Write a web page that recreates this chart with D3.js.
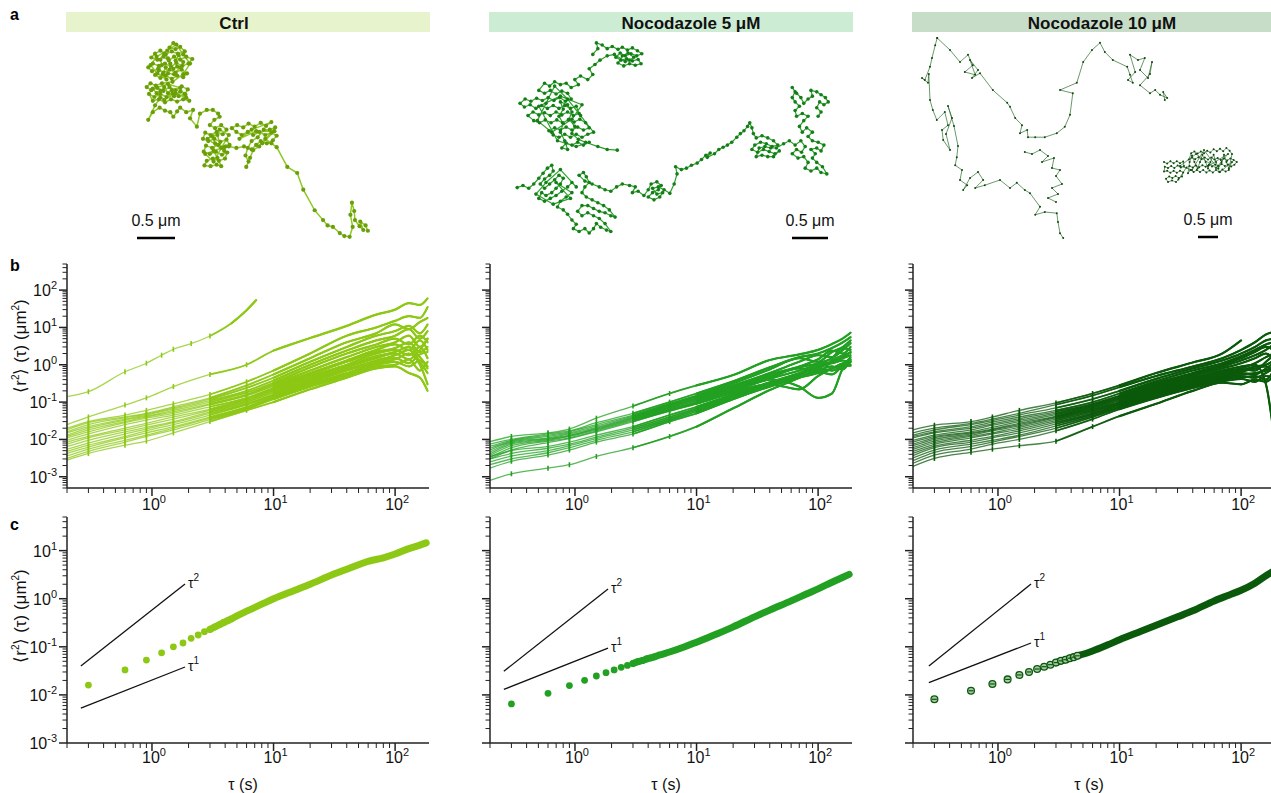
<!DOCTYPE html>
<html><head><meta charset="utf-8">
<script src="https://cdn.jsdelivr.net/npm/d3@7"></script>
<style>body{margin:0;background:#fff;} svg{display:block;font-family:"Liberation Sans",Arial,Helvetica,sans-serif;}</style>
</head><body>
<svg id="fig" width="1271" height="793"></svg>
<script>
// ---------------- DATA ----------------
const conditions = ["Ctrl", "Nocodazole 5 μM", "Nocodazole 10 μM"];
const scaleBarUm = 0.5;
const scaleBarLabel = "0.5 μm";

// Trajectories (μm, x right, y down), split in segments
const ctrlTrack = [[
 [0.57,0.04],[0.52,0.10],[0.60,0.12],[0.66,0.09],
 [0.72,0.15],[0.63,0.18],[0.55,0.15],[0.47,0.19],[0.40,0.14],[0.33,0.18],
 [0.28,0.23],[0.36,0.26],[0.44,0.22],[0.51,0.27],[0.58,0.22],[0.66,0.26],[0.74,0.22],[0.82,0.25],
 [0.77,0.31],[0.69,0.34],[0.61,0.30],[0.54,0.35],[0.46,0.31],[0.38,0.34],[0.30,0.31],[0.24,0.36],
 [0.29,0.41],[0.37,0.38],[0.44,0.43],[0.52,0.39],[0.60,0.43],[0.68,0.39],[0.75,0.44],
 [0.70,0.49],[0.62,0.47],[0.55,0.51],[0.47,0.47],[0.40,0.50],[0.33,0.46],
 [0.38,0.40],[0.42,0.33],[0.40,0.26],[0.45,0.18],[0.50,0.24],[0.53,0.31],[0.57,0.38],[0.62,0.35],[0.60,0.27],[0.64,0.20],
 [0.70,0.29],[0.66,0.36],[0.58,0.45],[0.50,0.44],[0.47,0.36],[0.43,0.45],[0.48,0.52],
 [0.36,0.44],[0.27,0.33],[0.35,0.22],[0.49,0.14],[0.61,0.06],[0.70,0.19],[0.79,0.31],[0.70,0.45],[0.56,0.55],
 [0.42,0.57],[0.34,0.60],[0.27,0.57],[0.22,0.62],
 [0.28,0.66],[0.36,0.63],[0.44,0.67],[0.52,0.62],[0.60,0.66],[0.68,0.61],[0.76,0.65],
 [0.72,0.71],[0.64,0.74],[0.56,0.70],[0.48,0.75],[0.40,0.71],[0.32,0.75],[0.25,0.71],
 [0.30,0.80],[0.38,0.78],[0.46,0.82],[0.54,0.78],[0.62,0.81],[0.70,0.78],[0.78,0.80],
 [0.73,0.72],[0.66,0.68],[0.58,0.74],[0.55,0.66],[0.50,0.70],[0.45,0.62],[0.40,0.67],[0.35,0.70],
 [0.45,0.79],[0.60,0.70],[0.74,0.76],[0.66,0.63],[0.50,0.58],[0.30,0.64],[0.40,0.76],
 [0.33,0.86],[0.24,1.05],[0.30,0.95],[0.39,0.89],[0.46,0.93],[0.53,0.95],[0.57,1.01],[0.62,0.94],[0.66,0.89],[0.74,0.95],
 [0.83,0.92],[0.79,1.03],[0.88,1.14],[0.92,0.97],[1.01,0.92],[1.09,0.92],[1.16,0.97],[1.18,1.01],[1.11,1.05],
 [1.05,1.12],[1.12,1.16],[1.20,1.12],[1.27,1.18],[1.22,1.24],[1.14,1.21],[1.06,1.25],[0.99,1.22],[0.96,1.30],[1.03,1.33],
 [1.11,1.30],[1.19,1.34],[1.27,1.31],[1.31,1.38],[1.24,1.41],[1.16,1.38],[1.08,1.42],[1.00,1.39],[0.97,1.47],[1.05,1.50],
 [1.13,1.47],[1.21,1.51],[1.28,1.48],[1.25,1.56],[1.17,1.59],[1.09,1.56],[1.01,1.59],[0.98,1.65],[1.06,1.66],[1.14,1.64],
 [1.20,1.66],[1.15,1.55],[1.10,1.46],[1.12,1.36],[1.08,1.27],[1.15,1.25],[1.20,1.42],[1.24,1.46],
 [1.02,1.30],[1.18,1.18],[1.30,1.25],[1.10,1.60],[0.99,1.50],[1.26,1.40],
 [1.30,1.40],[1.40,1.42],[1.50,1.40],[1.60,1.44],
 [1.66,1.38],[1.72,1.33],[1.80,1.36],[1.88,1.32],[1.93,1.26],[1.86,1.22],[1.78,1.25],[1.70,1.21],[1.62,1.25],[1.55,1.21],
 [1.47,1.25],[1.40,1.21],[1.34,1.16],[1.41,1.12],[1.49,1.15],[1.56,1.10],[1.64,1.14],[1.72,1.09],[1.79,1.13],[1.86,1.08],
 [1.60,1.18],[1.44,1.30],[1.66,1.20],[1.90,1.20],[1.74,1.36],
 [1.91,1.15],[1.84,1.18],[1.76,1.18],[1.68,1.28],[1.60,1.33],[1.55,1.42],[1.52,1.52],[1.56,1.60],[1.53,1.67],[1.58,1.55],
 [1.62,1.45],[1.70,1.40],[1.78,1.30],[1.86,1.36],[1.93,1.41],
 [2.07,1.67],[2.20,1.75],[2.28,1.97],[2.43,2.24],[2.54,2.37],[2.60,2.44],[2.67,2.46],[2.76,2.54],[2.82,2.58],[2.89,2.59],
 [2.93,2.46],[2.90,2.30],[2.92,2.14],[2.95,2.25],[2.96,2.37],[3.02,2.45],[3.07,2.50],[3.03,2.39],[3.10,2.44],[3.13,2.51]
]];
const noco5Track = [[
 [1.15,0.20],[1.22,0.12],[1.20,0.04],[1.28,0.07],[1.35,0.12],[1.42,0.09],[1.50,0.13],[1.56,0.10],[1.63,0.14],[1.70,0.11],
 [1.77,0.15],[1.83,0.19],[1.76,0.22],[1.68,0.19],[1.60,0.22],[1.53,0.18],[1.47,0.24],[1.54,0.28],[1.62,0.26],[1.70,0.29],
 [1.78,0.27],[1.82,0.33],[1.74,0.35],[1.66,0.33],[1.58,0.36],[1.50,0.32],[1.56,0.22],[1.64,0.18],[1.72,0.24],[1.66,0.28],
 [1.60,0.30],[1.45,0.20],[1.35,0.22],[1.25,0.28],[1.18,0.34],[1.10,0.40],[1.15,0.48],[1.08,0.55],[0.98,0.50],[0.90,0.55],
 [0.95,0.62],[0.85,0.66],[0.78,0.60],
 [0.70,0.62],[0.62,0.58],[0.55,0.64],[0.48,0.60],
 [0.40,0.70],[0.48,0.74],[0.56,0.70],[0.64,0.75],[0.72,0.71],[0.80,0.74],
 [0.85,0.82],[0.77,0.85],[0.69,0.80],[0.61,0.84],[0.53,0.80],[0.45,0.84],[0.37,0.81],[0.29,0.85],[0.21,0.82],[0.14,0.88],
 [0.20,0.93],[0.28,0.90],[0.36,0.95],[0.44,0.91],[0.52,0.95],[0.60,0.91],[0.68,0.95],[0.76,0.91],[0.84,0.95],[0.92,0.92],
 [0.96,1.02],[0.88,1.05],[0.80,1.00],[0.72,1.04],[0.64,1.00],[0.56,1.05],[0.48,1.01],[0.40,1.04],[0.32,1.00],[0.25,1.05],
 [0.33,1.12],[0.41,1.15],[0.49,1.11],[0.57,1.15],[0.65,1.11],[0.73,1.15],[0.81,1.11],[0.89,1.14],[0.97,1.10],[1.05,1.15],
 [1.10,1.22],[1.02,1.25],[0.94,1.21],[0.86,1.25],[0.78,1.21],[0.70,1.25],[0.62,1.22],[0.54,1.26],
 [0.60,1.32],[0.68,1.35],[0.76,1.31],[0.84,1.35],[0.92,1.31],[1.00,1.35],[1.08,1.31],[1.16,1.28],
 [0.98,1.05],[0.80,0.82],[0.62,0.64],[0.50,0.88],[0.38,1.12],[0.58,1.28],[0.86,1.10],[1.00,0.90],[0.70,0.78],[0.40,0.92],
 [0.66,1.40],[0.92,1.48],
 [1.10,1.42],[1.02,1.46],[0.94,1.42],[0.86,1.46],[0.78,1.43],[0.72,1.50],[0.80,1.52],
 [0.76,1.40],[0.70,1.28],[0.74,1.16],[0.68,1.06],[0.74,0.96],[0.70,0.86],[0.80,0.90],[0.86,1.00],[0.82,1.10],[0.90,1.20],
 [0.86,1.30],[0.95,1.38],[1.05,1.42],[1.22,1.48],[1.35,1.52],[1.49,1.53]
],[
 [0.10,2.05],[0.18,2.02],[0.26,2.06],[0.33,2.00],[0.40,1.92],[0.46,1.85],[0.52,1.78],[0.58,1.74],[0.60,1.82],[0.55,1.88],
 [0.48,1.93],[0.42,2.00],[0.48,2.06],[0.55,2.00],[0.62,1.94],[0.68,1.88],[0.74,1.92],[0.70,2.00],[0.64,2.06],[0.58,2.12],
 [0.50,2.16],[0.44,2.12],[0.40,2.20],[0.48,2.24],[0.56,2.20],[0.64,2.16],[0.72,2.10],[0.80,2.04],[0.86,1.98],[0.92,2.04],
 [0.70,1.80],[0.50,1.98],[0.36,2.14],[0.60,2.28],[0.84,2.20],[0.64,1.98],
 [0.86,2.12],[0.78,2.18],[0.70,2.24],[0.66,2.32],[0.74,2.36],[0.80,2.42],[0.86,2.50],[0.92,2.56],[0.88,2.62],[0.96,2.66],
 [1.04,2.62],[1.10,2.68],[1.16,2.62],[1.20,2.55],[1.26,2.60],[1.34,2.64],[1.40,2.66],[1.32,2.55],[1.24,2.48],[1.16,2.44],
 [1.08,2.40],[1.00,2.44],[0.94,2.38],[1.00,2.30],[1.08,2.30],[1.16,2.34],[1.24,2.38],[1.32,2.40],[1.40,2.44],[1.46,2.46],
 [1.38,2.36],[1.30,2.30],[1.22,2.26],[1.14,2.22],[1.06,2.18],[1.00,2.12],[1.04,2.04],[1.10,1.98],[1.06,1.90],[1.02,1.84],
 [0.96,1.88],[1.04,1.96],[1.14,2.00],[1.24,2.04],[1.32,2.08],[1.40,2.10],[1.48,2.04],[1.56,2.00],[1.66,2.02],[1.74,2.04],
 [1.70,2.12],[1.78,2.10],[1.86,2.16],[1.92,2.08],
 [1.96,2.00],[2.04,1.97],[2.10,2.02],[2.06,2.08],[1.98,2.12],[1.92,2.18],[2.00,2.22],[2.08,2.18],[2.12,2.12],[2.04,2.14],
 [1.98,2.06],[2.06,2.04],[2.14,2.08],[2.22,2.13],
 [2.28,2.00],[2.32,1.86],[2.30,1.76],[2.38,1.80],[2.45,1.78],[2.52,1.74],[2.60,1.71],[2.66,1.66],[2.72,1.60],[2.78,1.57],
 [2.74,1.63],[2.84,1.58],[2.90,1.52],[2.96,1.49],[3.02,1.46],[3.08,1.42],[3.15,1.35],[3.20,1.30],[3.25,1.26],[3.30,1.20],
 [3.33,1.15],[3.36,1.22],[3.38,1.30],
 [3.42,1.36],[3.50,1.33],[3.58,1.36],[3.66,1.40],[3.72,1.46],[3.64,1.48],[3.56,1.44],[3.48,1.42],[3.40,1.46],[3.36,1.52],
 [3.44,1.56],[3.52,1.52],[3.60,1.55],[3.68,1.58],[3.74,1.54],[3.66,1.62],[3.58,1.62],[3.50,1.60],[3.42,1.62],[3.46,1.50],
 [3.54,1.48],[3.62,1.50],[3.70,1.50],
 [3.80,1.44],[3.88,1.40],[3.96,1.46],[4.04,1.40],[4.10,1.48],[4.05,1.56],[3.98,1.52],[3.92,1.58],[4.00,1.64],[4.08,1.62],
 [4.14,1.70],[4.10,1.78],[4.18,1.82],[4.26,1.78],[4.32,1.84],[4.40,1.86],[4.34,1.76],[4.26,1.70],[4.20,1.64],[4.24,1.58],
 [4.18,1.52],[4.26,1.50],[4.32,1.54],[4.36,1.46],[4.28,1.42],[4.20,1.40],[4.14,1.34],[4.20,1.28],[4.12,1.22],[4.06,1.28],
 [4.02,1.20],[4.08,1.12],[4.14,1.06],[4.06,1.02],[3.98,1.06],[3.96,0.98],[4.02,0.92],[3.96,0.86],[3.92,0.80],[3.96,0.72],
 [3.92,0.66],[3.98,0.74],[4.04,0.80],[4.08,0.88],[4.14,0.82],[4.20,0.78],[4.18,0.70],[4.26,0.72],[4.32,0.76],[4.38,0.80],
 [4.42,0.86],[4.36,0.90],[4.30,0.86],[4.26,0.94],[4.32,1.00],[4.28,1.06]
]];
const noco10Track = [[
 [0.43,0.20],[0.75,0.50],[1.00,0.80],[1.20,0.62],[1.32,0.88],[1.12,1.05],[1.38,1.12],[1.25,0.75],[1.45,1.00],[1.30,1.20],
 [1.50,1.08],[1.82,1.50],[2.18,1.82],[2.25,1.92],[2.38,2.20],[2.55,2.38],[2.50,2.58],[2.68,2.50],[2.70,2.68],[2.88,2.68],
 [3.12,2.68],[3.42,2.58],[3.62,2.42],[3.75,2.12],[3.82,1.58],[3.50,1.50],[3.92,1.32],[4.08,0.80],[4.30,0.50],[4.50,0.32],
 [4.62,0.55],[4.82,0.75],[5.18,0.92],[5.25,1.12],[5.32,1.32],[5.20,1.25],[5.38,1.05],[5.25,0.62],[5.45,0.75],[5.62,0.70],
 [5.50,1.00],[5.70,1.20],[5.80,0.80],[5.75,1.10],[5.50,1.38],[5.75,1.58],[5.88,1.50],[6.00,1.62],[6.18,1.70],[6.08,1.55],[6.12,1.75]
],[
 [0.43,0.20],[0.38,0.38],[0.30,0.70],[0.25,0.92],[0.12,1.25],[0.05,1.20],[0.20,1.32],[0.22,1.10],[0.25,1.75],[0.32,2.00],
 [0.42,2.25],[0.62,2.05],[0.70,2.38],[0.55,2.50],[0.58,2.75],[0.75,3.00],[0.65,2.60],[0.80,2.20],[0.70,1.90],[0.85,2.40],
 [0.95,2.90],[0.92,3.18],[0.88,3.38],[1.05,3.50],[1.00,3.75],[1.18,3.88],[1.08,4.00],[1.25,3.70],[1.45,3.55],[1.58,3.75],
 [1.38,3.95],[1.62,3.88],[2.00,3.75],[2.25,3.95],[2.42,3.82],[2.62,4.00],[2.75,4.08],[3.00,4.42],[2.88,4.62],[3.12,4.55],
 [3.42,4.58],[3.45,4.80],[3.50,5.08],[3.58,5.20]
],[
 [2.62,3.05],[2.80,3.10],[3.00,3.00],[3.20,3.15],[3.05,3.30],[3.35,3.20],[3.30,3.45],[3.50,3.50],[3.40,3.65],[3.55,3.85],
 [3.30,3.95],[3.45,4.10],[3.20,4.20],[3.40,4.30]
],[
 [6.10,3.30],[6.18,3.34],[6.26,3.28],[6.34,3.33],[6.42,3.28],[6.50,3.33],[6.58,3.29],
 [6.60,3.40],[6.52,3.44],[6.44,3.39],[6.36,3.45],[6.28,3.40],[6.20,3.45],[6.12,3.42],
 [6.10,3.54],[6.18,3.52],[6.26,3.57],[6.34,3.52],[6.42,3.57],[6.50,3.52],[6.58,3.56],
 [6.55,3.66],[6.47,3.70],[6.39,3.65],[6.31,3.70],[6.23,3.66],[6.15,3.72],[6.20,3.80],[6.30,3.76],[6.40,3.80],[6.46,3.74],
 [6.66,3.44],[6.74,3.40],[6.82,3.44],[6.90,3.39],[6.98,3.43],[7.06,3.38],[7.14,3.42],[7.22,3.37],[7.30,3.41],[7.38,3.36],
 [7.46,3.40],[7.54,3.35],[7.62,3.40],[7.70,3.36],[7.78,3.41],[7.86,3.37],[7.92,3.30],
 [7.84,3.25],[7.76,3.21],[7.68,3.26],[7.60,3.21],[7.52,3.25],[7.44,3.20],[7.36,3.24],[7.28,3.19],[7.20,3.24],[7.12,3.19],
 [7.04,3.23],[6.96,3.18],[6.88,3.23],[6.80,3.19],[6.72,3.24],
 [6.78,3.08],[6.86,3.04],[6.94,3.09],[7.02,3.04],[7.10,3.08],[7.18,3.02],[7.26,3.06],[7.34,2.98],[7.42,3.03],[7.50,2.97],
 [7.58,3.03],[7.66,2.95],[7.74,3.02],[7.80,3.10],
 [7.72,3.50],[7.64,3.54],[7.56,3.49],[7.48,3.55],[7.40,3.50],[7.32,3.56],[7.24,3.51],[7.16,3.56],[7.08,3.50],[7.00,3.55],
 [6.92,3.50],[6.84,3.55],[6.76,3.50],[6.70,3.58],
 [6.74,3.30],[6.80,3.14],[6.86,3.30],[6.94,3.46],[7.00,3.30],[7.06,3.12],[7.14,3.30],[7.20,3.46],[7.26,3.30],[7.34,3.12],
 [7.40,3.30],[7.46,3.46],[7.54,3.30],[7.60,3.12],[7.66,3.30],[7.72,3.46],[7.80,3.30],
 [7.50,3.55],[7.10,3.00],[6.80,3.50],[6.50,3.40],[6.90,3.10],[7.40,3.45],[7.70,3.10],[7.20,3.40]
]];

// Panel b: individual MSD curves (μm²) at lag times tauB (s)
const tauB = [0.2, 0.3, 0.6, 0.9, 1.5, 3, 6, 10, 20, 40, 70, 100, 130, 160, 185];
const ctrlMSD = [
 [0.025,0.04,0.083,0.13,0.26,0.55,1.0,2.4,5.2,11,22,30,45,40,60],
 [0.02,0.03,0.045,0.06,0.09,0.16,0.35,0.7,2.0,6,10,15,20,18,35],
 [0.018,0.028,0.04,0.05,0.075,0.13,0.28,0.55,1.5,4.0,7,12,9,14,18],
 [0.016,0.025,0.038,0.048,0.07,0.12,0.24,0.45,1.2,3.0,6,8,11,7,12],
 [0.015,0.022,0.035,0.045,0.065,0.11,0.2,0.38,1.0,2.4,4.5,6,9,5,8],
 [0.013,0.02,0.033,0.042,0.06,0.1,0.18,0.33,0.85,2.0,3.5,5,3.5,6,4],
 [0.012,0.018,0.03,0.04,0.055,0.09,0.16,0.3,0.7,1.6,3,4,6,3,5],
 [0.011,0.016,0.028,0.037,0.05,0.085,0.15,0.27,0.6,1.3,2.5,3.5,2.5,4.5,2.5],
 [0.0095,0.014,0.025,0.033,0.045,0.075,0.13,0.24,0.55,1.2,2.2,2.8,4,2.2,3],
 [0.0085,0.012,0.02,0.027,0.04,0.065,0.12,0.22,0.5,1.0,2.0,2.5,1.8,3,1.5],
 [0.0075,0.011,0.018,0.024,0.035,0.06,0.11,0.2,0.45,0.9,1.7,2.2,3,1.6,0.9],
 [0.0065,0.0095,0.016,0.021,0.03,0.055,0.1,0.18,0.4,0.85,1.5,2.0,1.4,2.5,5],
 [0.0055,0.008,0.014,0.019,0.028,0.05,0.09,0.16,0.36,0.75,1.3,1.8,2.5,1.2,0.6],
 [0.0048,0.007,0.012,0.017,0.025,0.045,0.085,0.15,0.33,0.7,1.2,1.5,1.1,1.9,2.2],
 [0.0042,0.0062,0.011,0.015,0.022,0.04,0.075,0.14,0.3,0.6,1.1,1.4,2.0,1.0,0.3],
 [0.0036,0.0055,0.0095,0.013,0.02,0.037,0.07,0.13,0.28,0.55,1.0,1.2,0.9,1.3,0.8],
 [0.0031,0.0048,0.0085,0.012,0.018,0.034,0.065,0.12,0.26,0.5,0.9,1.0,1.4,0.7,1.2],
 [0.0028,0.0042,0.007,0.009,0.015,0.03,0.06,0.1,0.22,0.45,0.8,0.9,0.6,0.45,0.2]
];
const ctrlOutlierTau = [0.2, 0.3, 0.6, 0.9, 1.2, 1.5, 2.1, 3, 4.5, 6, 7.2];
const ctrlOutlierMSD = [0.14, 0.19, 0.65, 1.1, 1.8, 2.6, 3.7, 5.9, 12.9, 29, 54];
const noco5MSD = [
 [0.0087,0.012,0.015,0.019,0.037,0.078,0.17,0.28,0.53,1.34,1.9,2.5,3.6,5.1,7.2],
 [0.0075,0.010,0.014,0.017,0.028,0.05,0.10,0.17,0.36,0.85,1.6,2.0,2.8,4.0,5.5],
 [0.0065,0.0095,0.013,0.016,0.025,0.045,0.09,0.15,0.32,0.75,1.5,1.2,2.2,3.0,4.5],
 [0.0058,0.009,0.012,0.015,0.023,0.042,0.085,0.14,0.28,0.6,1.2,1.8,1.6,2.5,3.8],
 [0.0052,0.0085,0.011,0.014,0.021,0.04,0.08,0.13,0.26,0.55,0.9,1.4,2.4,2.0,3.0],
 [0.0046,0.008,0.0105,0.013,0.02,0.038,0.075,0.12,0.24,0.5,0.85,1.1,1.5,2.8,2.5],
 [0.0041,0.0075,0.01,0.0125,0.019,0.036,0.07,0.11,0.22,0.45,0.8,0.6,1.3,1.8,2.1],
 [0.0037,0.0068,0.0095,0.012,0.018,0.034,0.065,0.1,0.2,0.42,0.7,1.0,1.2,1.5,1.8],
 [0.0033,0.006,0.009,0.011,0.017,0.032,0.06,0.095,0.19,0.4,0.26,0.13,0.17,0.8,1.2],
 [0.003,0.0052,0.0082,0.0105,0.016,0.03,0.058,0.09,0.18,0.3,0.22,0.5,0.8,1.0,1.3],
 [0.0035,0.005,0.0065,0.0085,0.013,0.022,0.045,0.075,0.16,0.34,0.6,0.9,1.1,1.3,1.0],
 [0.003,0.0042,0.0058,0.0075,0.0115,0.02,0.04,0.068,0.15,0.32,0.55,0.8,0.7,1.0,1.6],
 [0.0025,0.0036,0.005,0.0068,0.0105,0.018,0.036,0.062,0.14,0.3,0.5,0.7,0.9,0.75,1.4],
 [0.0021,0.003,0.0044,0.006,0.0095,0.016,0.033,0.056,0.13,0.28,0.48,0.65,0.55,0.9,0.95],
 [0.0017,0.0026,0.0038,0.0052,0.0085,0.014,0.03,0.05,0.12,0.26,0.45,0.6,0.8,1.1,1.2],
 [0.0008,0.0012,0.0017,0.0021,0.0035,0.006,0.012,0.022,0.068,0.21,0.45,0.8,1.2,1.6,2.2]
];
const noco10MSD = [
 [0.018,0.024,0.03,0.04,0.06,0.095,0.17,0.28,0.6,1.15,2.0,4.5,null,null,null],
 [0.015,0.02,0.027,0.035,0.05,0.085,0.15,0.25,0.5,0.9,1.5,2.5,4.0,6.5,7.6],
 [0.013,0.018,0.025,0.032,0.045,0.07,0.12,0.2,0.42,0.8,1.3,2.0,3.0,4.5,5],
 [0.012,0.016,0.022,0.029,0.04,0.06,0.1,0.17,0.36,0.7,1.1,1.7,2.5,3.5,4],
 [0.011,0.015,0.02,0.026,0.036,0.055,0.09,0.15,0.32,0.6,1.0,1.5,2.2,3.0,2.5],
 [0.0095,0.013,0.018,0.024,0.033,0.05,0.085,0.14,0.3,0.55,0.9,1.3,1.8,2.5,3.5],
 [0.0085,0.012,0.016,0.021,0.03,0.046,0.08,0.13,0.27,0.5,0.8,1.1,1.5,2.0,1.5],
 [0.0075,0.011,0.015,0.019,0.027,0.042,0.075,0.12,0.25,0.45,0.7,0.9,1.0,0.3,0.015],
 [0.0068,0.01,0.014,0.018,0.025,0.04,0.07,0.11,0.23,0.42,0.65,0.8,1.1,1.6,2.0],
 [0.006,0.009,0.013,0.017,0.023,0.038,0.065,0.1,0.21,0.4,0.6,0.75,0.7,1.2,1.8],
 [0.0054,0.0082,0.012,0.015,0.021,0.035,0.06,0.095,0.2,0.37,0.55,0.7,0.9,1.0,1.3],
 [0.0048,0.0074,0.011,0.014,0.019,0.032,0.055,0.09,0.18,0.34,0.5,0.65,0.8,0.9,0.6],
 [0.0042,0.0066,0.0095,0.012,0.017,0.029,0.05,0.085,0.17,0.32,0.48,0.6,0.55,0.8,1.1],
 [0.0037,0.006,0.0085,0.011,0.015,0.026,0.047,0.08,0.16,0.3,0.45,0.55,0.6,0.7,0.9],
 [0.0032,0.0052,0.0075,0.0095,0.013,0.023,0.043,0.075,0.15,0.28,0.42,0.5,0.45,0.6,0.8],
 [0.0027,0.0045,0.0065,0.0085,0.012,0.02,0.04,0.07,0.14,0.26,0.4,0.45,0.5,0.4,0.7],
 [0.0023,0.0038,0.0055,0.0075,0.01,0.017,0.035,0.065,0.13,0.24,0.36,0.42,0.35,0.5,0.45],
 [0.0019,0.0031,0.0045,0.0055,0.0068,0.009,0.022,0.042,0.09,0.2,0.33,0.3,0.4,0.35,0.5]
];

// Panel c: ensemble-averaged MSD (μm²)
const tauC = [0.3,0.6,0.9,1.2,1.5,1.8,2.1,2.4,2.7,3.0,3.3,3.6,3.9,4.2,4.5,5,6,8,10,15,20,30,40,60,80,100,130,160,180];
const ctrlMean   = [0.016,0.033,0.053,0.075,0.10,0.12,0.15,0.176,0.206,0.23,0.26,0.29,0.32,0.35,0.38,0.44,0.55,0.77,1.0,1.5,2.0,3.1,4.1,6.0,7.1,8.5,11,13,14.5];
const noco5Mean  = [0.0065,0.0108,0.0156,0.0201,0.0247,0.029,0.033,0.0374,0.041,0.045,0.049,0.052,0.056,0.059,0.062,0.068,0.078,0.10,0.125,0.19,0.26,0.42,0.58,0.9,1.25,1.6,2.2,2.8,3.2];
const noco10Mean = [0.0081,0.0122,0.0169,0.021,0.026,0.030,0.0345,0.0386,0.0425,0.047,0.051,0.054,0.058,0.061,0.065,0.07,0.082,0.11,0.14,0.21,0.28,0.42,0.56,0.9,1.2,1.5,2.1,3.0,3.6];

// Guide lines (τ² and τ¹) for panel c
const guideTau = [[0.26,1.87],[0.26,1.87],[0.27,1.87]];
const guideT2  = [[0.040,2.02],[0.031,1.59],[0.040,2.02]];
const guideT1  = [[0.0053,0.038],[0.013,0.094],[0.018,0.12]];

// Axis tick labels (powers of ten)
const yTicksB = [-3,-2,-1,0,1,2];
const yTicksC = [-3,-2,-1,0,1];
const xTicks = [0,1,2];

// ---------------- DRAWING ----------------
const svg = d3.select("#fig");
const colors = ["#8cc814", "#22a022", "#0b5a0b"];
const dotColors = ["#6a9f0a", "#157f17", "#0a4a0a"];
const headerFill = ["#e6f3cd", "#cdecd4", "#c8ddc8"];
const headerTextX = [234, 691, 1102];
const colX = [67, 490, 913];
const W = 362;
const bTop = 264, bBot = 488, cTop = 517, cBot = 743;
const TF = 16, SF = 11;

// panel letters
[["a",20],["b",271],["c",530]].forEach(([t,y])=>{
  svg.append("text").attr("x",10).attr("y",y).attr("font-size",16).attr("font-weight","bold").text(t);
});

// headers
conditions.forEach((c,i)=>{
  svg.append("rect").attr("x",colX[i]-1).attr("y",12).attr("width",W+2).attr("height",20).attr("fill",headerFill[i]);
  svg.append("text").attr("x",headerTextX[i]).attr("y",28.5).attr("text-anchor","middle")
    .attr("font-weight","bold").attr("font-size",17).attr("fill","#111").text(c);
});

// trajectories
const tracks = [ctrlTrack, noco5Track, noco10Track];
const trackOrigin = [[130,40],[510,40],[920,30]];
const pxPerUm = [76,72,40];
const barStart = [137,792,1198];
const barY = [238,238,237];
const trackLW = [1.5,1.2,0.7];
const dotR = [2.1,1.8,1.0];
const lineCol = ["#8fc826","#2ca02c","#2d6b2d"];
tracks.forEach((tr,i)=>{
  const sx = d3.scaleLinear().domain([0,1]).range([trackOrigin[i][0], trackOrigin[i][0]+pxPerUm[i]]);
  const sy = d3.scaleLinear().domain([0,1]).range([trackOrigin[i][1], trackOrigin[i][1]+pxPerUm[i]]);
  const line = d3.line().x(d=>sx(d[0])).y(d=>sy(d[1]));
  const g = svg.append("g");
  tr.forEach(seg=>{
    g.append("path").attr("d",line(seg)).attr("fill","none").attr("stroke",lineCol[i])
      .attr("stroke-width",trackLW[i]).attr("stroke-linejoin","round");
  });
  tr.forEach(seg=>{
    g.selectAll(null).data(seg).enter().append("circle")
      .attr("cx",d=>sx(d[0])).attr("cy",d=>sy(d[1])).attr("r",dotR[i]).attr("fill",dotColors[i]);
  });
  const x0 = barStart[i], x1 = x0 + (sx(scaleBarUm)-sx(0));
  svg.append("line").attr("x1",x0).attr("x2",x1).attr("y1",barY[i]).attr("y2",barY[i]).attr("stroke","#000").attr("stroke-width",2.5);
  svg.append("text").attr("x",(x0+x1)/2).attr("y",barY[i]-12).attr("text-anchor","middle").attr("font-size",TF).attr("fill","#111").text(scaleBarLabel);
});

function pow10Label(sel, exp){
  sel.append("tspan").text("10");
  sel.append("tspan").attr("dy",-7).attr("font-size",SF).text(exp);
}

function drawAxes(x, y, yLabelExps, showY, xLabelBase){
  const g = svg.append("g");
  const [x0,x1] = x.range();
  const [yb,yt] = y.range();
  g.append("line").attr("x1",x0).attr("x2",x0).attr("y1",yt).attr("y2",yb).attr("stroke","#222").attr("stroke-width",1.5);
  g.append("line").attr("x1",x0).attr("x2",Math.min(x1,1271)).attr("y1",yb).attr("y2",yb).attr("stroke","#222").attr("stroke-width",1.5);
  const isMaj = t => Math.abs(Math.log10(t)-Math.round(Math.log10(t)))<1e-6;
  y.ticks().forEach(t=>{
    const m = isMaj(t);
    g.append("line").attr("x1",x0-(m?8:4.5)).attr("x2",x0).attr("y1",y(t)).attr("y2",y(t)).attr("stroke","#222").attr("stroke-width",m?1.5:1);
  });
  x.ticks().forEach(t=>{
    const m = isMaj(t);
    g.append("line").attr("x1",x(t)).attr("x2",x(t)).attr("y1",yb).attr("y2",yb+(m?8:5)).attr("stroke","#222").attr("stroke-width",m?1.5:1);
  });
  if (showY){
    yLabelExps.forEach(e=>{
      const t = g.append("text").attr("x",x0-10).attr("y",y(Math.pow(10,e))+6).attr("text-anchor","end").attr("font-size",TF).attr("fill","#111");
      pow10Label(t, String(e));
    });
  }
  xTicks.forEach(e=>{
    const t = g.append("text").attr("x",x(Math.pow(10,e))+2).attr("y",xLabelBase).attr("text-anchor","middle").attr("font-size",TF).attr("fill","#111");
    pow10Label(t, String(e));
  });
}

function yTitle(cy){
  const t = svg.append("text").attr("transform",`translate(26,${cy}) rotate(-90)`).attr("text-anchor","middle").attr("font-size",17).attr("fill","#111");
  t.append("tspan").text("⟨r");
  t.append("tspan").attr("dy",-7).attr("font-size",10).text("2");
  t.append("tspan").attr("dy",7).text("⟩ (τ) (μm");
  t.append("tspan").attr("dy",-7).attr("font-size",10).text("2");
  t.append("tspan").attr("dy",7).text(")");
}

const msdSets = [ctrlMSD, noco5MSD, noco10MSD];
const meanSets = [ctrlMean, noco5Mean, noco10Mean];

conditions.forEach((c,i)=>{
  const x = d3.scaleLog().domain([0.2,190]).range([colX[i], colX[i]+W]);
  const yB = d3.scaleLog().domain([5e-4,500]).range([bBot,bTop]);
  const yC = d3.scaleLog().domain([1e-3,50]).range([cBot,cTop]);

  // ---- panel b curves
  const gb = svg.append("g");
  const line = d3.line().x(d=>x(d[0])).y(d=>yB(d[1])).curve(d3.curveMonotoneX);
  const drawCurve = (tau, vals, midFrom, thickFrom)=>{
    const pts = tau.map((t,k)=>[t,vals[k]]).filter(d=>d[1]!=null);
    gb.append("path").attr("d",line(pts)).attr("fill","none").attr("stroke",colors[i]).attr("stroke-width",1.3).attr("stroke-opacity",0.75);
    const mid = pts.filter(d=>d[0]>=midFrom);
    if (mid.length>1) gb.append("path").attr("d",line(mid)).attr("fill","none").attr("stroke",colors[i]).attr("stroke-width",1.7).attr("stroke-opacity",0.9);
    const thick = pts.filter(d=>d[0]>=thickFrom);
    if (thick.length>1) gb.append("path").attr("d",line(thick)).attr("fill","none").attr("stroke",colors[i]).attr("stroke-width",2.2).attr("stroke-linecap","round");
    pts.filter(d=>d[0]>=0.3 && d[0]<thickFrom).forEach(d=>{
      gb.append("line").attr("x1",x(d[0])).attr("x2",x(d[0])).attr("y1",yB(d[1])-2.5).attr("y2",yB(d[1])+2.5)
        .attr("stroke",colors[i]).attr("stroke-width",1.6);
    });
  };
  msdSets[i].forEach(v=>drawCurve(tauB, v, 3, 10));
  if (i===0) drawCurve(ctrlOutlierTau, ctrlOutlierMSD, 3, 4.5);
  drawAxes(x, yB, yTicksB, i===0, 510);

  // ---- panel c
  const gc = svg.append("g");
  const gl = d3.line().x(d=>x(d[0])).y(d=>yC(d[1]));
  [guideT2, guideT1].forEach((gv,k)=>{
    const pts = guideTau[i].map((t,j)=>[t, gv[i][j]]);
    gc.append("path").attr("d",gl(pts)).attr("stroke","#111").attr("stroke-width",1.3).attr("fill","none");
    const e = pts[1];
    const t = gc.append("text").attr("x",x(e[0])+3).attr("y",yC(e[1])+4).attr("font-size",14).attr("fill","#111");
    t.append("tspan").text("τ");
    t.append("tspan").attr("dy",-7).attr("font-size",10).text(k===0?"2":"1");
  });
  const pts = tauC.map((t,k)=>[t, meanSets[i][k]]);
  const band = pts.filter(d=>d[0]>=3);
  gc.append("path").attr("d",d3.line().x(d=>x(d[0])).y(d=>yC(d[1])).curve(d3.curveMonotoneX)(band)).attr("fill","none").attr("stroke",colors[i])
    .attr("stroke-width",7).attr("stroke-linecap","round").attr("stroke-linejoin","round");
  gc.selectAll(null).data(pts.filter(d=>d[0]<=4.5)).enter().append("circle")
    .attr("cx",d=>x(d[0])).attr("cy",d=>yC(d[1])).attr("r",3.4)
    .attr("fill", i===2 ? "#a9c6a9" : colors[i])
    .attr("stroke", i===2 ? colors[i] : "none").attr("stroke-width",1.3);
  if (i===2){
    gc.selectAll(null).data(pts.filter(d=>d[0]<=4.5)).enter().append("line")
      .attr("x1",d=>x(d[0])-2.4).attr("x2",d=>x(d[0])+2.4).attr("y1",d=>yC(d[1])).attr("y2",d=>yC(d[1]))
      .attr("stroke",colors[i]).attr("stroke-width",1.2);
  }
  drawAxes(x, yC, yTicksC, i===0, 763);
  svg.append("text").attr("x",colX[i]+W/2-5).attr("y",790).attr("text-anchor","middle").attr("font-size",TF).attr("fill","#111").text("τ (s)");
});

yTitle(346);
yTitle(616);
</script>
</body></html>
